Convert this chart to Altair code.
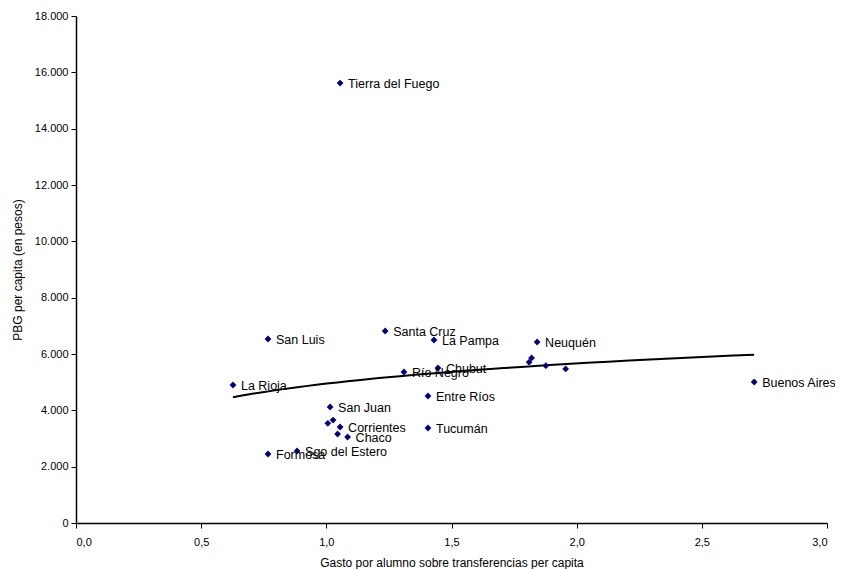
import altair as alt
import pandas as pd

provincias = ["Tierra del Fuego", "Santa Cruz", "San Luis", "La Pampa", "Neuquén",
              "Chubut", "Río Negro", "La Rioja", "", "", "", "", "Buenos Aires",
              "Entre Ríos", "San Juan", "Tucumán", "", "", "Corrientes", "",
              "Chaco", "Sgo del Estero", "Formosa"]
gasto = [1.055, 1.235, 0.767, 1.43, 1.842, 1.446, 1.31, 0.627, 1.81, 1.82, 1.877,
         1.956, 2.709, 1.406, 1.015, 1.406, 1.006, 1.027, 1.055, 1.045, 1.085,
         0.883, 0.767]
pbg = [15620, 6816, 6532, 6497, 6426, 5503, 5361, 4899, 5710, 5860, 5585, 5470,
       5006, 4509, 4118, 3373, 3540, 3656, 3408, 3160, 3053, 2556, 2450]

df = pd.DataFrame({"provincia": provincias, "gasto": gasto, "pbg": pbg})

FONT = "Liberation Sans"

x_enc = alt.X("gasto:Q",
              scale=alt.Scale(domain=[0, 3], nice=False, zero=True),
              axis=alt.Axis(values=[0, 0.5, 1, 1.5, 2, 2.5, 3],
                            labelExpr="replace(format(datum.value, '.1f'), '.', ',')",
                            title="Gasto por alumno sobre transferencias per capita",
                            titlePadding=10, labelPadding=8))
y_enc = alt.Y("pbg:Q",
              scale=alt.Scale(domain=[0, 18000], nice=False),
              axis=alt.Axis(values=list(range(0, 18001, 2000)),
                            labelExpr="replace(format(datum.value, ','), ',', '.')",
                            title="PBG per capita (en pesos)",
                            titlePadding=10, labelPadding=3))

base = alt.Chart(df)

points = base.mark_point(shape="diamond", filled=True, size=46, color="#000080",
                         opacity=1).encode(x=x_enc, y=y_enc)

labels = base.mark_text(align="left", baseline="middle", dx=8, dy=1, fontSize=12.5,
                        font=FONT, color="black").encode(
    x="gasto:Q", y="pbg:Q", text="provincia:N")

trend = base.transform_regression("gasto", "pbg", method="log").mark_line(
    color="black", strokeWidth=2).encode(x="gasto:Q", y="pbg:Q")

chart = alt.layer(trend, points, labels).properties(
    width=751, height=507,
    autosize=alt.AutoSizeParams(type="none"),
    padding={"left": 68, "top": 8, "right": 8, "bottom": 50},
).configure_view(stroke=None).configure_axis(
    grid=False, domainColor="black", domainWidth=1.5, tickColor="black",
    tickSize=5, tickWidth=1, labelColor="black", titleColor="black",
    labelFont=FONT, titleFont=FONT, labelFontSize=11, titleFontSize=12,
    titleFontWeight="normal")

chart.save("out.html", embed_options={"renderer": "svg", "actions": False})
